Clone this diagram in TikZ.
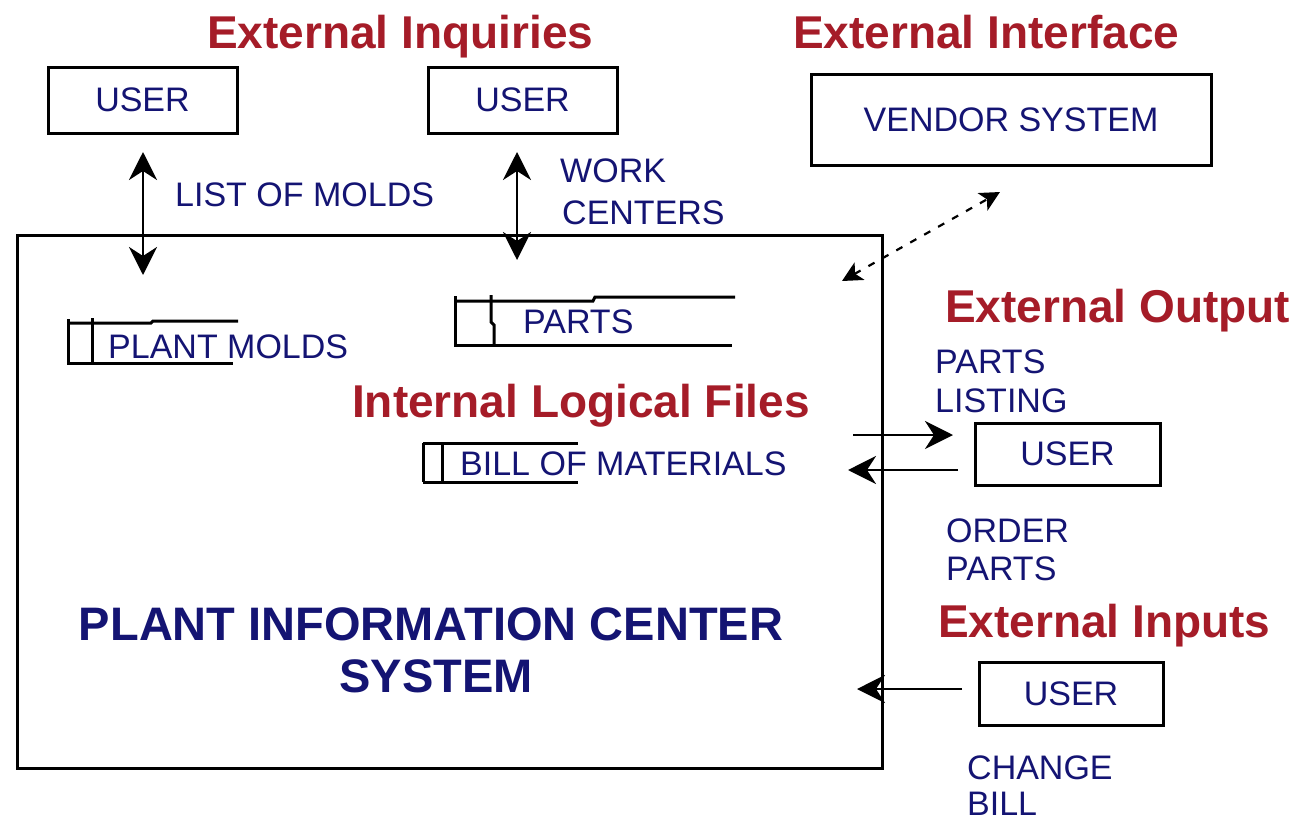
\documentclass[tikz,border=0pt]{standalone}
\usepackage{fontspec}
\setmainfont{Liberation Sans}
\usetikzlibrary{arrows.meta}
\definecolor{hred}{RGB}{165,28,40}
\definecolor{tblue}{RGB}{20,20,115}
\begin{document}
\begin{tikzpicture}[x=1pt,y=-1pt,
  heading/.style={text=hred,font=\fontsize{46}{52}\selectfont\bfseries,inner sep=0,anchor=base west},
  lbl/.style={text=tblue,font=\fontsize{34}{40}\selectfont,inner sep=0,anchor=base west},
  ttl/.style={text=tblue,font=\fontsize{47}{52}\selectfont\bfseries,inner sep=0,anchor=base},
  ubox/.style={draw,line width=3pt,text=tblue,font=\fontsize{34}{40}\selectfont,inner sep=0},
  stline/.style={line width=3pt},
  flow/.style={line width=2.8pt,-{Stealth[length=28pt,width=28pt,inset=9pt]}},
  dbl/.style={line width=2.8pt,{Stealth[length=28pt,width=28pt,inset=9pt]}-{Stealth[length=28pt,width=28pt,inset=9pt]}},
  dsh/.style={line width=2.2pt,dash pattern=on 7pt off 9pt,{Stealth[length=20pt,width=20pt,inset=5pt]}-{Stealth[length=20pt,width=20pt,inset=5pt]}}
]
\useasboundingbox (0,0) rectangle (1301,822);
\fill[white] (0,0) rectangle (1301,822);

% main system box
\node[draw,line width=3pt,minimum width=865pt,minimum height=533pt,inner sep=0] (sys) at (449.5,501.5) {};
\node[ttl] (title1) at (431,640) {PLANT INFORMATION CENTER};
\node[ttl] (title2) at (436,692) {SYSTEM};

% headings
\node[heading] (hinq) at (207,48) {External Inquiries};
\node[heading] (hint) at (793,48) {External Interface};
\node[heading] (hout) at (945,322) {External Output};
\node[heading] (hilf) at (352,417) {Internal Logical Files};
\node[heading] (hinp) at (938,637) {External Inputs};

% external boxes
\node[ubox,minimum width=189pt,minimum height=66pt] (user1) at (142.5,100) {USER};
\node[ubox,minimum width=189pt,minimum height=66pt] (user2) at (522.5,100) {USER};
\node[ubox,minimum width=400pt,minimum height=91pt] (vendor) at (1011,119.5) {VENDOR SYSTEM};
\node[ubox,minimum width=185pt,minimum height=62pt] (user3) at (1067.5,454) {USER};
\node[ubox,minimum width=184pt,minimum height=63pt] (user4) at (1071,693.5) {USER};

% labels
\node[lbl] (llist) at (175,206) {LIST OF MOLDS};
\node[lbl] (lwork1) at (560,182) {WORK};
\node[lbl] (lwork2) at (562,224) {CENTERS};
\node[lbl] (lpl1) at (935,373) {PARTS};
\node[lbl] (lpl2) at (935,412) {LISTING};
\node[lbl] (lop1) at (946,542) {ORDER};
\node[lbl] (lop2) at (946,580) {PARTS};
\node[lbl] (lcb1) at (967,779) {CHANGE};
\node[lbl] (lcb2) at (967,815) {BILL};

% data stores
\draw[stline] (68,319) -- (68,363) -- (233,363);
\draw[stline] (68,323) -- (151,323) -- (153,321) -- (238,321);
\draw[stline] (92,318) -- (92,363);
\node[lbl] (dsmolds) at (108,358) {PLANT MOLDS};

\draw[stline] (455,296) -- (455,345) -- (732,345);
\draw[stline] (455,301) -- (593,301) -- (595,297) -- (735,297);
\draw[stline] (491,295) -- (491,322) -- (494,325) -- (494,345);
\node[lbl] (dsparts) at (523,333) {PARTS};

\draw[stline] (423,443) -- (578,443);
\draw[stline] (423,482) -- (578,482);
\draw[stline] (423,443) -- (423,482);
\draw[stline] (442,443) -- (442,482);
\node[lbl] (dsbom) at (460,475) {BILL OF MATERIALS};

% connector end points
\coordinate (a1t) at (143,152);
\coordinate (a1b) at (143,275);
\coordinate (a2t) at (517,152);
\coordinate (a2b) at (517,260);
\coordinate (dlo) at (842,281);
\coordinate (dhi) at (1000,192);
\coordinate (o1s) at (853,435);
\coordinate (o1e) at (953,435);
\coordinate (o2s) at (958,470);
\coordinate (o2e) at (848,470);
\coordinate (i1s) at (962,689);
\coordinate (i1e) at (857,689);

\draw[dbl] (a1t) -- (a1b);
\draw[dbl] (a2t) -- (a2b);
\draw[dsh] (dlo) -- (dhi);
\draw[flow] (o1s) -- (o1e);
\draw[flow] (o2s) -- (o2e);
\draw[flow] (i1s) -- (i1e);
\end{tikzpicture}
\end{document}
